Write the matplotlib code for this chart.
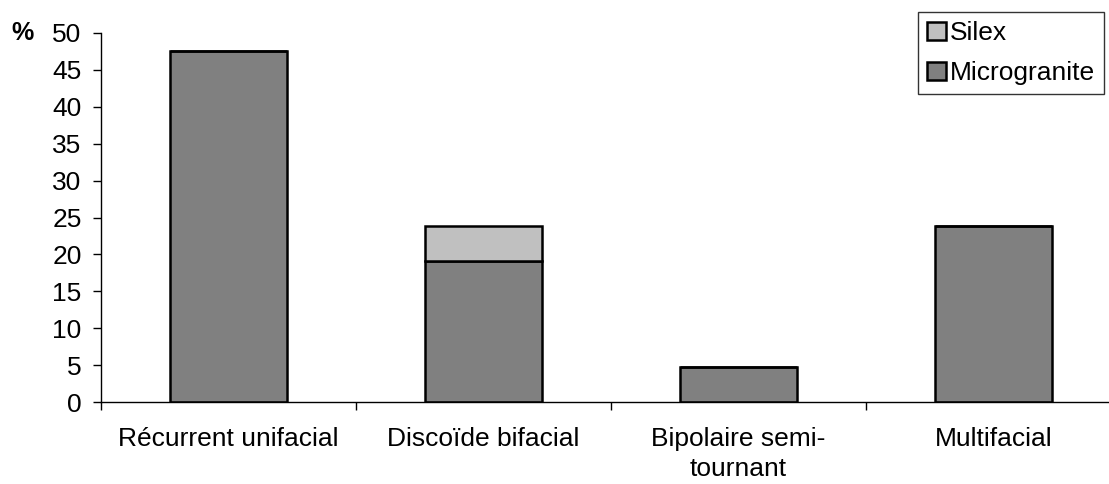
import numpy as np
from matplotlib import pyplot as plt

# Data
categories = ['Récurrent unifacial', 'Discoïde bifacial', 'Bipolaire semi-\ntournant', 'Multifacial']
microgranite = [47.6, 19.05, 4.76, 23.8]
silex = [0, 4.76, 0, 0]

plt.rcParams['font.family'] = ['Liberation Sans', 'DejaVu Sans']
fs = 19

fig = plt.figure(figsize=(11.09, 4.84), dpi=100)
ax = fig.add_axes([101 / 1109, 82 / 484, 1020 / 1109, 369 / 484])

x = np.arange(len(categories))
ax.bar(x, microgranite, width=0.46, color='#808080', edgecolor='black',
       linewidth=1.8, label='Microgranite')
ax.bar(x, silex, width=0.46, bottom=microgranite, color='#c0c0c0',
       edgecolor='black', linewidth=1.8, label='Silex')

# Format axes
ax.set_xlim(-0.5, 3.5)
ax.set_ylim(0, 50)
ax.set_yticks(range(0, 51, 5))
ax.tick_params(axis='y', labelsize=fs, length=6, width=1, pad=8, direction='out')
ax.set_xticks(np.arange(-0.5, 3.6, 1))
ax.set_xticklabels([])
ax.set_xticks(x, minor=True)
ax.set_xticklabels(categories, minor=True, fontsize=fs, linespacing=1.3)
ax.tick_params(axis='x', which='major', length=6, width=1, direction='out')
ax.tick_params(axis='x', which='minor', length=0, pad=18)
for s in ['top', 'right']:
    ax.spines[s].set_visible(False)
ax.spines['left'].set_linewidth(1)
ax.spines['bottom'].set_linewidth(1)

fig.text(11 / 1109, 1 - 33 / 484, '%', fontsize=fs - 1, fontweight='bold', va='center')

handles, labels = ax.get_legend_handles_labels()
leg = fig.legend(handles[::-1], labels[::-1], loc='upper right',
                 bbox_to_anchor=(1104 / 1109, 1 - 12 / 484), fontsize=fs,
                 frameon=True, fancybox=False, edgecolor='black',
                 handlelength=0.7, handleheight=0.7, handletextpad=0.15,
                 borderpad=0.35, labelspacing=0.6, borderaxespad=0)
leg.get_frame().set_linewidth(1)

fig.savefig('out.png', dpi=100)
